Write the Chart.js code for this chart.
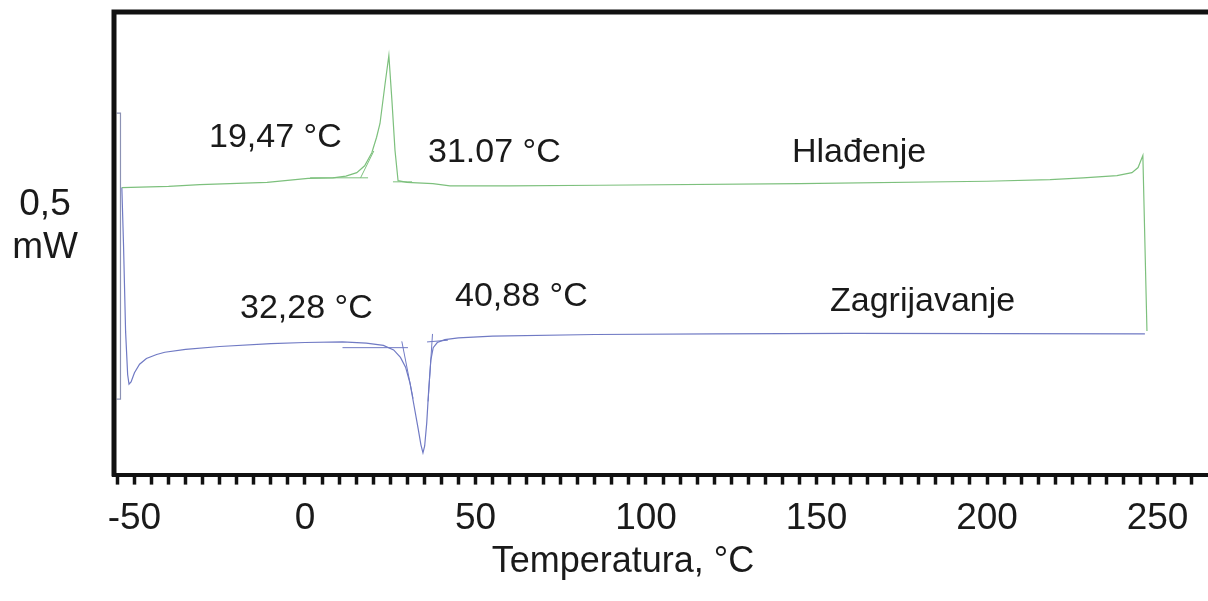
<!DOCTYPE html>
<html>
<head>
<meta charset="utf-8">
<script src="https://cdn.jsdelivr.net/npm/chart.js@4"></script>
<style>
    html, body { margin: 0; padding: 0; background: #fff; }
</style>
</head>
<body>
<canvas id="myChart" width="1208" height="601"></canvas>
<script>
// DSC curve, x = temperature (°C), y = heat flow (mW)
const coolingTemp = [-53.7, -40, -30.8, -11.1, 0.9, 8.2, 12, 15.2, 17.5, 19.6, 21, 22, 23.5, 24.6, 25.5, 26.4, 27.3, 29.9, 37.5, 42.5, 60, 86.5, 145, 200, 218.5, 228.2, 238.1, 242.5, 244.3, 245.7, 246.9];
const coolingHeat = [0.502, 0.504, 0.507, 0.511, 0.518, 0.519, 0.522, 0.528, 0.540, 0.563, 0.590, 0.614, 0.684, 0.733, 0.654, 0.567, 0.514, 0.511, 0.509, 0.505, 0.505, 0.506, 0.509, 0.513, 0.516, 0.519, 0.523, 0.528, 0.537, 0.558, 0.251];

const heatingTemp = [-53.7, -53.2, -52.6, -52.0, -51.6, -51.0, -50.0, -48.5, -46.5, -43.5, -41.1, -35, -25, -10, 0, 11, 18, 23, 26, 28, 29.5, 30.8, 32, 33.2, 34.0, 34.6, 35.1, 35.7, 36.3, 36.9, 37.6, 38.8, 41, 45, 55, 85, 120, 160, 246.3];
const heatingHeat = [0.502, 0.400, 0.250, 0.175, 0.158, 0.162, 0.178, 0.193, 0.203, 0.210, 0.214, 0.219, 0.224, 0.229, 0.231, 0.232, 0.230, 0.226, 0.218, 0.205, 0.188, 0.160, 0.120, 0.080, 0.052, 0.038, 0.050, 0.090, 0.150, 0.200, 0.222, 0.231, 0.236, 0.239, 0.242, 0.245, 0.246, 0.247, 0.246];

// onset / endset construction lines
const coolTangentA = [[1.5, 0.519], [18.5, 0.519]];
const coolTangentB = [[16.3, 0.519], [20.2, 0.566]];
const coolTangentC = [[25.8, 0.512], [31.4, 0.512]];
const heatTangentA = [[11, 0.222], [30.2, 0.222]];
const heatTangentB = [[28.4, 0.233], [31.7, 0.133]];
const heatTangentC = [[35.8, 0.232], [41.9, 0.235]];
const heatTangentD = [[37.4, 0.246], [36.1, 0.128]];

// 0,5 mW scale bar
const scaleBar = [[-55.2, 0.632], [-54.1, 0.632], [-54.1, 0.132], [-55.2, 0.132]];

const xTickLabels = [-50, 0, 50, 100, 150, 200, 250];
const peakLabels = ['19,47 °C', '31.07 °C', 'Hlađenje', '32,28 °C', '40,88 °C', 'Zagrijavanje'];
const scaleLabel = ['0,5', 'mW'];
const xTitle = 'Temperatura, °C';

const green = 'rgb(125,192,125)';
const blue = 'rgb(112,122,196)';
const fontFam = '"Liberation Sans", Arial, sans-serif';

function pts(xs, ys) {
    return xs.map((x, i) => ({ x: x, y: ys[i] }));
}
function pairs(arr) {
    return arr.map(p => ({ x: p[0], y: p[1] }));
}
function line(data, color, width) {
    return {
        data: data,
        showLine: true,
        borderColor: color,
        borderWidth: width || 1.2,
        pointRadius: 0,
        fill: false,
        tension: 0
    };
}

const textPlugin = {
    id: 'textPlugin',
    afterDraw(chart) {
        const ctx = chart.ctx;
        const a = chart.chartArea;
        ctx.save();
        // frame: top and left
        ctx.strokeStyle = '#111';
        ctx.lineWidth = 5;
        ctx.beginPath();
        ctx.moveTo(a.left, a.bottom + 2);
        ctx.lineTo(a.left, a.top);
        ctx.lineTo(a.right + 5, a.top);
        ctx.stroke();

        ctx.fillStyle = '#1a1a1a';
        ctx.textBaseline = 'alphabetic';
        ctx.textAlign = 'left';
        ctx.font = '34px ' + fontFam;
        const pos = [[209, 147], [428, 162], [792, 162], [240, 318], [455, 306], [830, 311]];
        peakLabels.forEach((t, i) => ctx.fillText(t, pos[i][0], pos[i][1]));

        ctx.textAlign = 'center';
        ctx.font = '37px ' + fontFam;
        ctx.fillText(scaleLabel[0], 45, 215);
        ctx.fillText(scaleLabel[1], 45, 258);

        ctx.font = '36px ' + fontFam;
        ctx.fillText(xTitle, 623, 572);
        ctx.restore();
    }
};

const ctx = document.getElementById('myChart').getContext('2d');
const myChart = new Chart(ctx, {
    type: 'scatter',
    data: {
        datasets: [
            line(pts(coolingTemp, coolingHeat), green),
            line(pts(heatingTemp, heatingHeat), blue),
            line(pairs(coolTangentA), green, 1),
            line(pairs(coolTangentB), green, 1),
            line(pairs(coolTangentC), green, 1),
            line(pairs(heatTangentA), blue, 1),
            line(pairs(heatTangentB), blue, 1),
            line(pairs(heatTangentC), blue, 1),
            line(pairs(heatTangentD), blue, 1),
            line(pairs(scaleBar), 'rgb(140,146,180)', 1.2)
        ]
    },
    options: {
        responsive: false,
        animation: false,
        layout: {
            padding: { left: 114, top: 12, right: 0, bottom: 48 }
        },
        plugins: {
            legend: { display: false },
            tooltip: { enabled: false }
        },
        scales: {
            x: {
                type: 'linear',
                min: -56,
                max: 264.8,
                border: { display: true, color: '#111', width: 4 },
                grid: {
                    drawOnChartArea: false,
                    drawTicks: true,
                    tickLength: 10,
                    tickWidth: 3.5,
                    color: '#111'
                },
                ticks: {
                    stepSize: 5,
                    autoSkip: false,
                    maxRotation: 0,
                    includeBounds: false,
                    padding: 12,
                    color: '#1a1a1a',
                    font: { size: 37, family: fontFam },
                    callback: v => xTickLabels.includes(v) ? String(v) : ''
                },
                title: { display: false }
            },
            y: {
                display: false,
                min: 0,
                max: 0.809
            }
        }
    },
    plugins: [textPlugin]
});
</script>
</body>
</html>
